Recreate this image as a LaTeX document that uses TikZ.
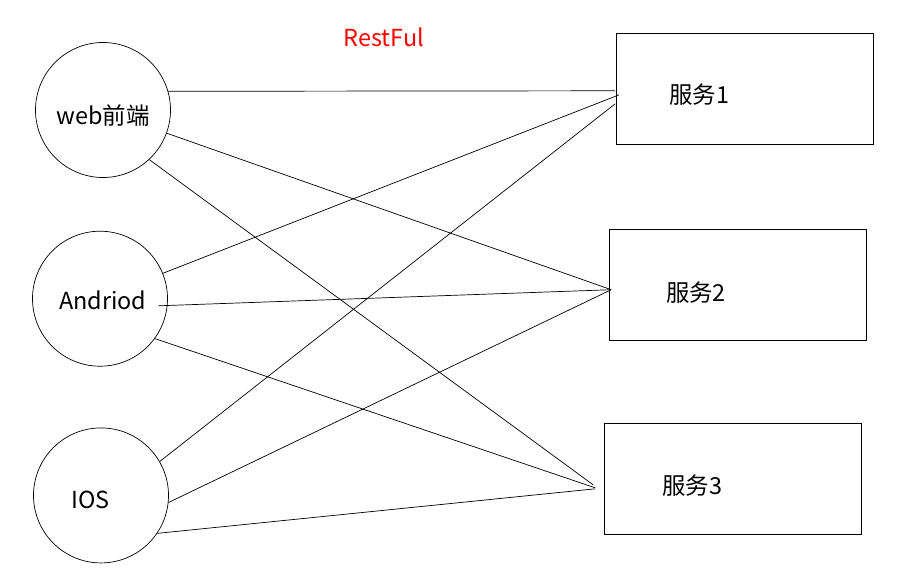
\documentclass[tikz,border=0pt]{standalone}
\usepackage{fontspec}
\setmainfont{Noto Sans CJK SC}
\usetikzlibrary{positioning}

\begin{document}
\begin{tikzpicture}[
    x = 0.03cm, y = -0.03cm, % one unit is one pixel of the sketch
    node distance = 1.6cm, % distance between nodes
    font = \fontsize{20pt}{24pt}\selectfont
    ]

    \tikzset{
    client/.style = {draw = black, line width = 0.6pt, circle, minimum size = 4.05cm, inner sep = 0pt},
    service/.style = {draw = black, line width = 0.85pt, rectangle, minimum width = 7.7cm, minimum height = 3.33cm, inner sep = 0pt},
    txt/.style = {inner sep = 0pt},
    link/.style = {draw = black, line width = 0.6pt}
    }

    \useasboundingbox (0,0) rectangle (910,585);

    \node[red, txt] (rest) at (384,37) {RestFul};

    \node[client, label={[txt, yshift=-0.17cm]center:web前端}] (web) at (103,110) {};
    \node[client, label={[txt, xshift=0.08cm, yshift=-0.06cm]center:Andriod}] (andriod) [below=1.59cm of web, xshift=-0.09cm] {};
    \node[client, label={[txt, xshift=-0.31cm, yshift=-0.12cm]center:IOS}] (ios) [below=1.83cm of andriod, xshift=0.03cm] {};

    \node[service, label={[txt, anchor=west, xshift=1.59cm, yshift=-0.18cm]west:服务1}] (s1) at (745,88.8) {};
    \node[service, label={[txt, anchor=west, xshift=1.71cm, yshift=-0.24cm]west:服务2}] (s2) [below=2.52cm of s1, xshift=-0.22cm] {};
    \node[service, label={[txt, anchor=west, xshift=1.74cm, yshift=-0.2cm]west:服务3}] (s3) [below=2.46cm of s2, xshift=-0.14cm] {};

    % where the lines meet the services
    \coordinate (s1a) at ([shift={(-1,2)}]s1.west);
    \coordinate (s1b) at ([shift={(3,6)}]s1.west);
    \coordinate (s1c) at ([shift={(-1,15)}]s1.west);
    \coordinate (s2a) at ([shift={(2.4,4.9)}]s2.west);
    \coordinate (s3a) at ([shift={(-11,6)}]s3.west);
    \coordinate (s3b) at ([shift={(-9,9)}]s3.west);
    \coordinate (s3c) at ([shift={(-9,10)}]s3.west);

    \draw[link] (web.16) -- (s1a);
    \draw[link] (web.-20) -- (s2a);
    \draw[link] (web.-47) -- (s3a);
    \draw[link] (andriod.22) -- (s1b);
    \draw[link] ([shift={(-9,0)}]andriod.-6) -- (s2a);
    \draw[link] (andriod.-36) -- (s3b);
    \draw[link] (ios.30) -- (s1c);
    \draw[link] (ios.-6) -- (s2a);
    \draw[link] (ios.-34) -- (s3c);
\end{tikzpicture}
\end{document}
